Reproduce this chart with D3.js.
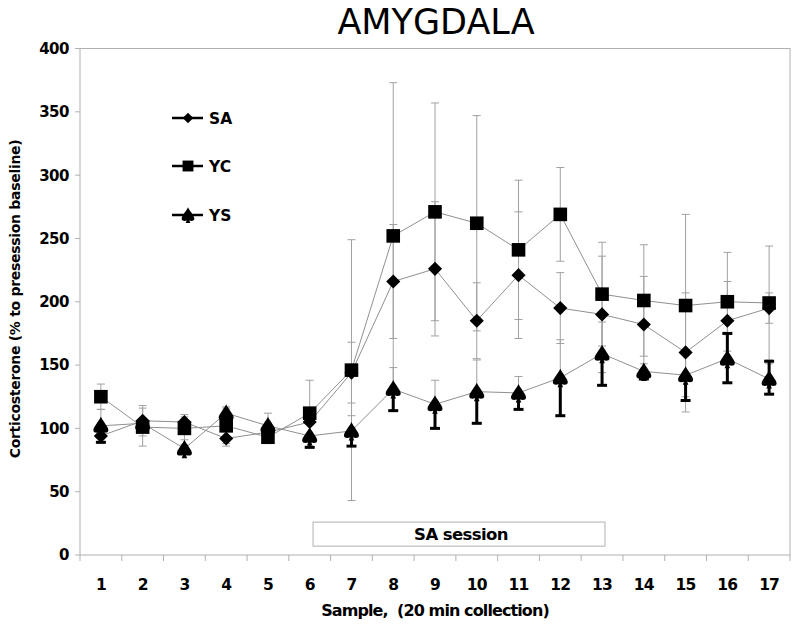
<!DOCTYPE html>
<html><head><meta charset="utf-8">
<script src="https://cdn.jsdelivr.net/npm/d3@7"></script>
<style>body{margin:0;background:#fff}svg{display:block}text{font-family:"DejaVu Sans",sans-serif}</style>
</head><body><svg id="c" width="800" height="629"></svg>
<script>
const samples = ["1","2","3","4","5","6","7","8","9","10","11","12","13","14","15","16","17"];
const yTicks = [0,50,100,150,200,250,300,350,400];
const saMean = [94,106,105,92,97,105,144,216,226,185,221,195,190,182,160,185,195];
const saErr  = [6,12,6,6,6,10,24,45,53,30,50,28,46,38,47,31,12];
const ycMean = [125,101,100,102,93,112,146,252,271,262,241,269,206,201,197,200,199];
const ycErr  = [10,15,9,14,5,26,103,121,86,85,55,37,41,44,72,39,45];
const ysMean = [102,104,84,112,102,94,98,131,119,129,128,140,159,145,142,155,139];
const ysErr  = [13,4,3,5,10,9,12,17,19,25,13,30,25,6,20,19,12];
const ysErrUpStrong = [0,0,0,0,0,0,0,0,0,0,0,0,0,0,0,20,14];
const seriesNames = ["SA","YC","YS"];
const sessionLabel = "SA session";

const svg = d3.select("#c");
const L=80, R=790, T=48.5, B=555;
const x = d3.scaleBand().domain(samples).range([L,R]).padding(0);
const y = d3.scaleLinear().domain([0,400]).range([B,T]);
const cx = d => x(d)+x.bandwidth()/2;
const gray="#a0a0a0", lineGray="#909090";

// frame
svg.append("rect").attr("x",L).attr("y",T).attr("width",R-L).attr("height",B-T)
  .attr("fill","none").attr("stroke","#b0b0b0").attr("stroke-width",1);

// y ticks
const ya = svg.append("g");
yTicks.forEach(t=>{
  ya.append("line").attr("x1",L-5).attr("x2",L).attr("y1",y(t)).attr("y2",y(t)).attr("stroke","#b0b0b0");
  ya.append("text").attr("x",L-11).attr("y",y(t)).attr("dy","0.36em").attr("text-anchor","end")
    .attr("font-size",15).attr("font-weight","bold").attr("letter-spacing","-0.5").text(t);
});
// x ticks
const xa = svg.append("g");
samples.forEach((s,i)=>{
  xa.append("line").attr("x1",x(s)).attr("x2",x(s)).attr("y1",B).attr("y2",B+6).attr("stroke","#b0b0b0");
  xa.append("text").attr("x",cx(s)).attr("y",590).attr("text-anchor","middle")
    .attr("font-size",15.5).attr("font-weight","bold").attr("letter-spacing","-0.8").text(s);
});
xa.append("line").attr("x1",R).attr("x2",R).attr("y1",B).attr("y2",B+6).attr("stroke","#b0b0b0");

// session box
const sx0 = x("6")+x.bandwidth()*0.58, sx1 = x("13")+x.bandwidth()*0.57;
svg.append("rect").attr("x",sx0).attr("y",y(26)).attr("width",sx1-sx0).attr("height",y(7)-y(26))
  .attr("fill","#fff").attr("stroke","#b0b0b0");
svg.append("text").attr("x",(sx0+sx1)/2+2).attr("y",(y(26)+y(7))/2).attr("dy","0.36em").attr("text-anchor","middle")
  .attr("font-size",16.5).attr("font-weight","bold").attr("letter-spacing","-0.6").text(sessionLabel);

// titles
svg.append("text").attr("x",436).attr("y",34).attr("text-anchor","middle").attr("font-size",35).text("AMYGDALA");
svg.append("text").attr("transform","translate(20,299) rotate(-90)").attr("text-anchor","middle")
  .attr("font-size",14).attr("font-weight","bold").attr("letter-spacing","-0.3").text("Corticosterone (% to presession baseline)");
svg.append("text").attr("x",435).attr("y",616).attr("text-anchor","middle")
  .attr("font-size",16).attr("font-weight","bold").attr("letter-spacing","-0.9").attr("xml:space","preserve")
  .text("Sample,  (20 min collection)");

const cap = 4;
function errBar(g, xs, y0, y1, color, w, capw){
  g.append("line").attr("x1",xs).attr("x2",xs).attr("y1",y0).attr("y2",y1).attr("stroke",color).attr("stroke-width",w);
  g.append("line").attr("x1",xs-capw).attr("x2",xs+capw).attr("y1",y1).attr("y2",y1).attr("stroke",color).attr("stroke-width",w);
}
const eg = svg.append("g");
samples.forEach((s,i)=>{
  errBar(eg,cx(s),y(saMean[i]),y(saMean[i]+saErr[i]),gray,1,cap);
  errBar(eg,cx(s),y(saMean[i]),y(saMean[i]-saErr[i]),gray,1,cap);
  errBar(eg,cx(s),y(ycMean[i]),y(ycMean[i]+ycErr[i]),gray,1,cap);
  errBar(eg,cx(s),y(ycMean[i]),y(ycMean[i]-ycErr[i]),gray,1,cap);
  errBar(eg,cx(s),y(ysMean[i]),y(ysMean[i]+ysErr[i]),gray,1,cap);
});

const line = d3.line().x((d,i)=>cx(samples[i])).y(d=>y(d));
[saMean,ycMean,ysMean].forEach(m=>{
  svg.append("path").attr("d",line(m)).attr("fill","none").attr("stroke",lineGray).attr("stroke-width",1);
});

const bg = svg.append("g");
samples.forEach((s,i)=>{
  errBar(bg,cx(s),y(ysMean[i]),y(ysMean[i]-ysErr[i]),"#000",3,5);
  if(ysErrUpStrong[i]>0) errBar(bg,cx(s),y(ysMean[i]),y(ysMean[i]+ysErrUpStrong[i]),"#000",3,5);
});

const diamond = d3.symbol().type(d3.symbolSquare).size(100)();
const square = d3.symbol().type(d3.symbolSquare).size(185)();
const tri = "M0,-9 C2,-4.5 7.5,1 7.5,4.5 C7.5,7 4.5,7.5 1.5,6.5 L2.8,9.5 L-2.8,9.5 L-1.5,6.5 C-4.5,7.5 -7.5,7 -7.5,4.5 C-7.5,1 -2,-4.5 0,-9Z";
const shapes = [
  {p:diamond, rot:45},
  {p:square, rot:0},
  {p:tri, rot:0}
];
[saMean,ycMean,ysMean].forEach((m,k)=>{
  const g = svg.append("g");
  m.forEach((v,i)=>{
    g.append("path").attr("d",shapes[k].p)
      .attr("transform",`translate(${cx(samples[i])},${y(v)}) rotate(${shapes[k].rot})`).attr("fill","#000");
  });
});

// legend
const legY = [118,166,215];
seriesNames.forEach((n,k)=>{
  svg.append("line").attr("x1",172).attr("x2",203).attr("y1",legY[k]).attr("y2",legY[k]).attr("stroke","#000").attr("stroke-width",2.5);
  const sc = k===0?0.75:(k===1?0.8:0.85);
  svg.append("path").attr("d",shapes[k].p).attr("fill","#000")
    .attr("transform",`translate(188,${legY[k]}) rotate(${shapes[k].rot}) scale(${sc})`);
  svg.append("text").attr("x",209).attr("y",legY[k]).attr("dy","0.36em").attr("font-size",15.5).attr("font-weight","bold").text(n);
});
</script></body></html>
